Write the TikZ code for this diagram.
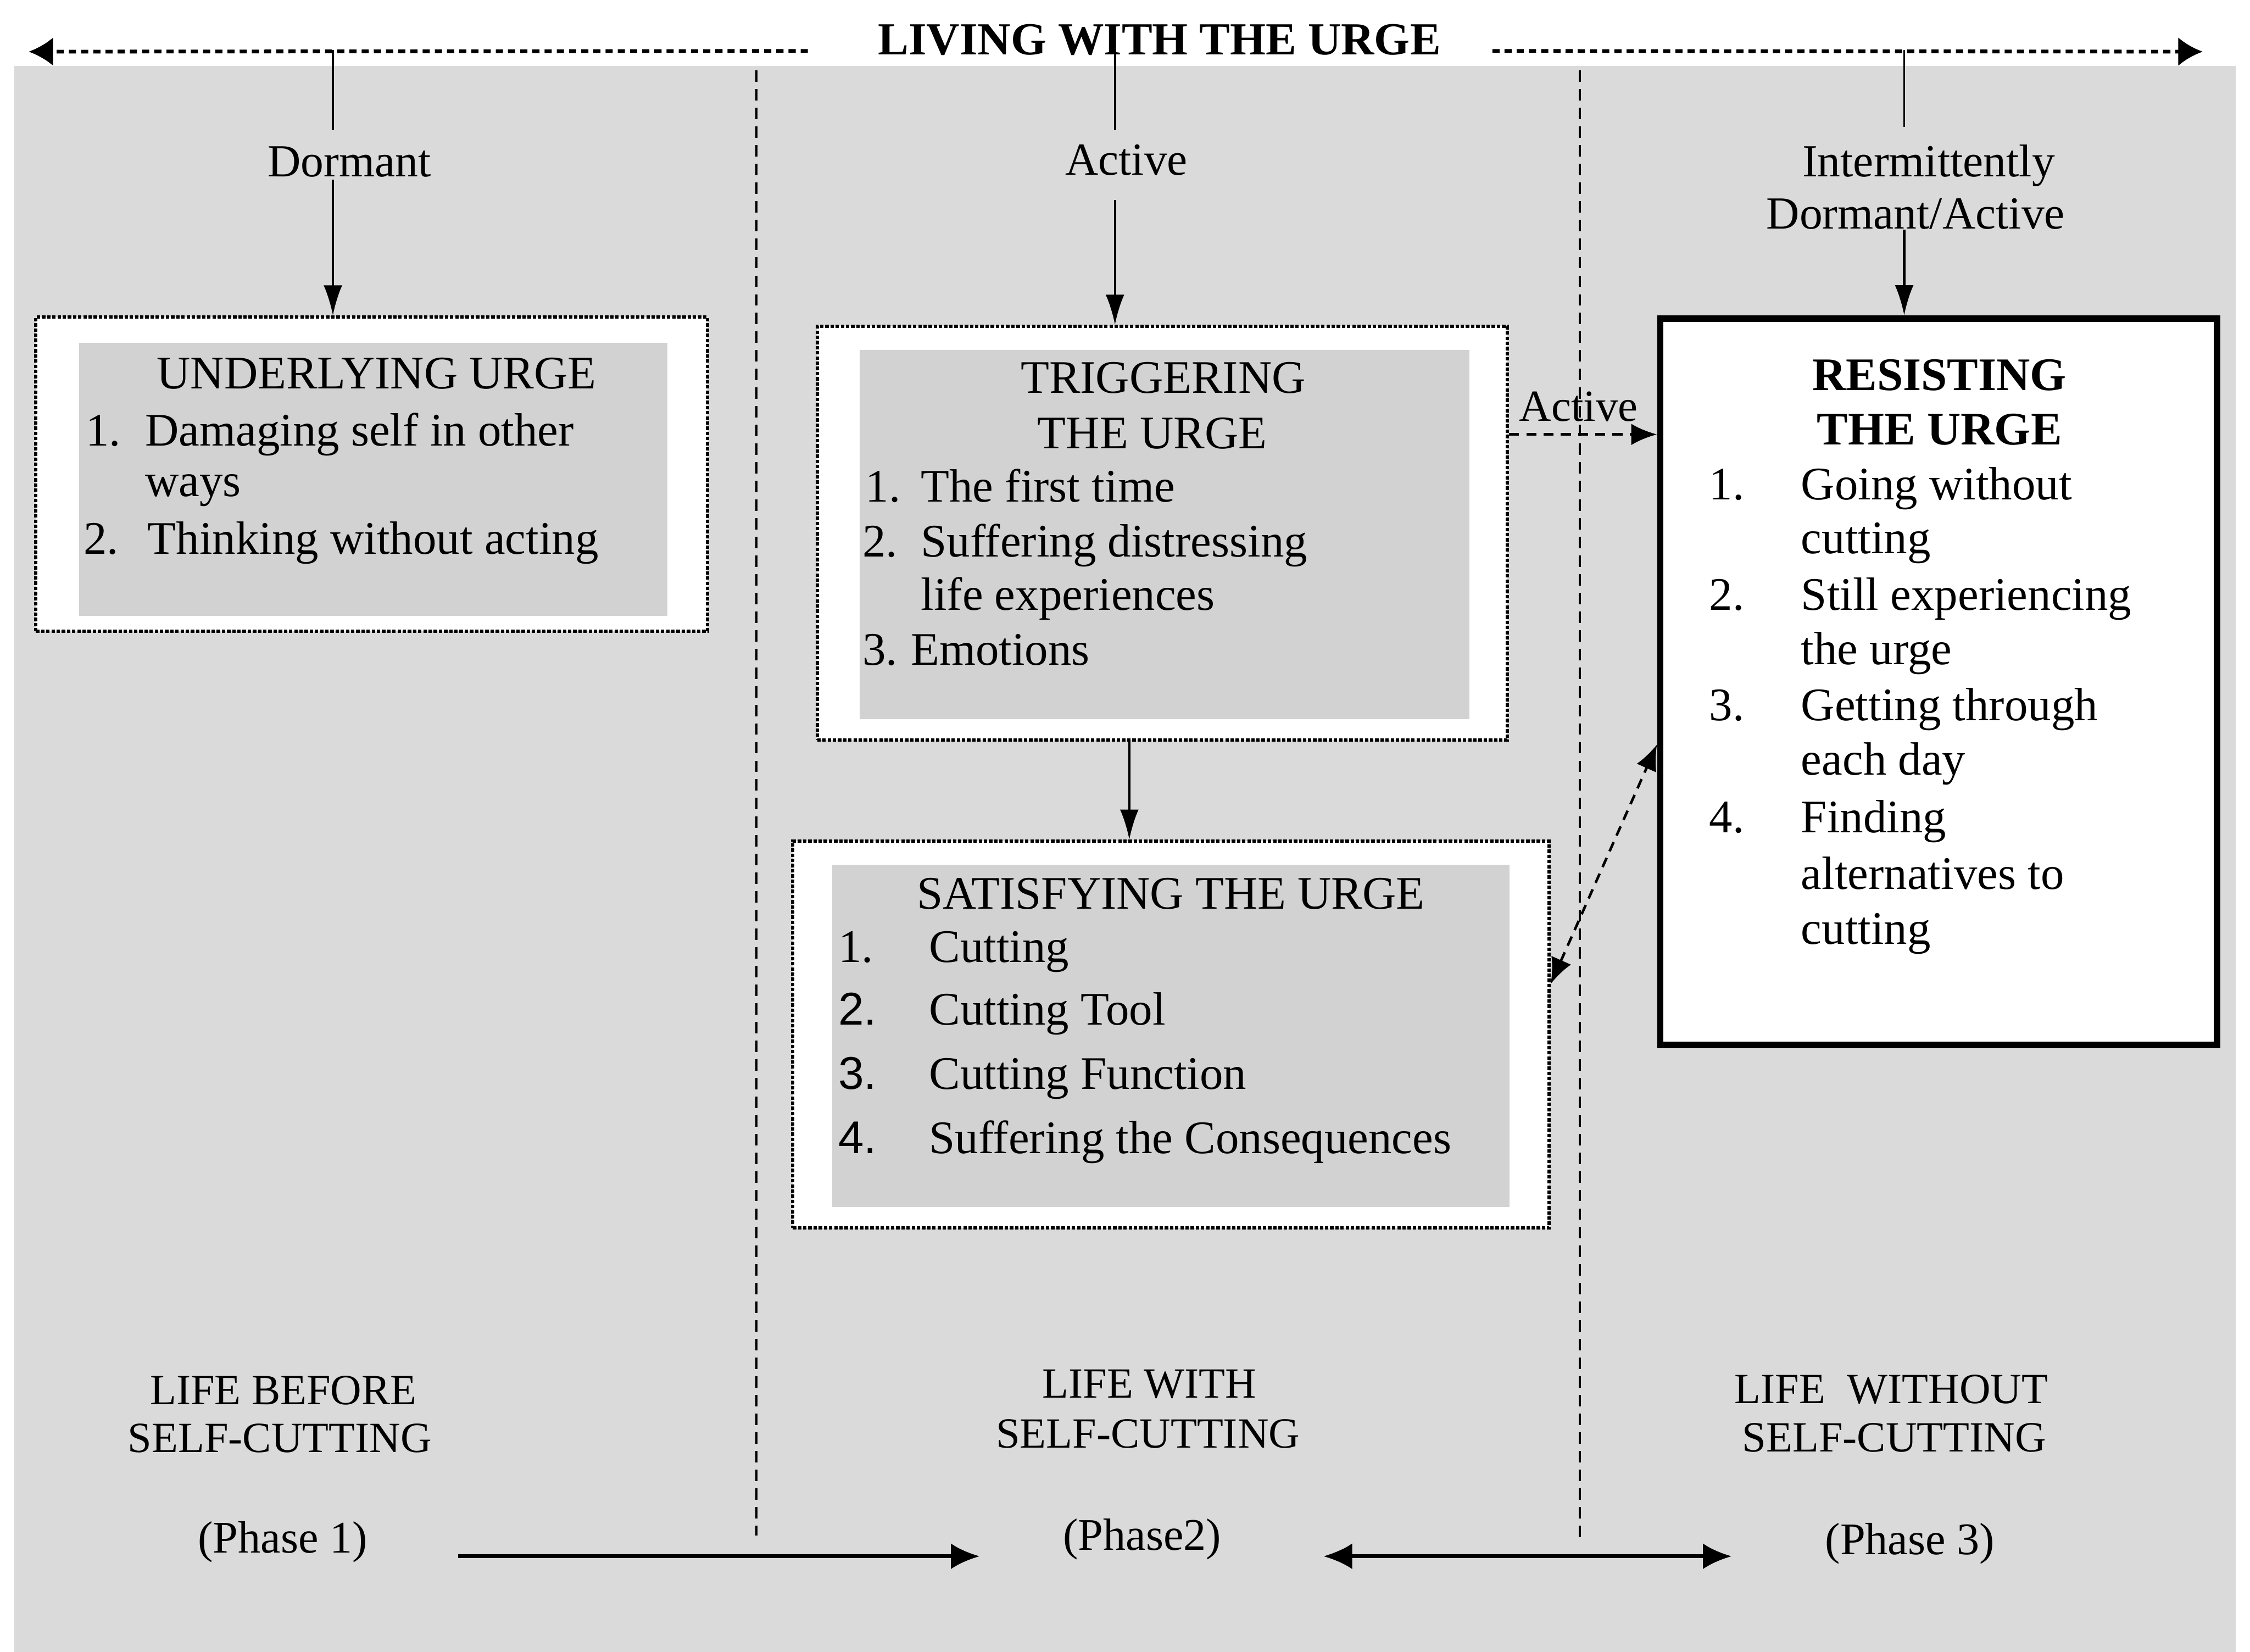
\documentclass[tikz,border=0pt]{standalone}
\usepackage{fontspec}
\setmainfont{Liberation Serif}
\newfontfamily\arialf{Liberation Sans}
\usetikzlibrary{arrows.meta}
\definecolor{bggray}{RGB}{218,218,218}
\definecolor{ingray}{RGB}{210,210,210}
\begin{document}
\begin{tikzpicture}[x=1pt,y=-1pt,
  body/.style={font=\fontsize{32.5}{38}\selectfont, inner sep=0pt, anchor=base west},
  head/.style={font=\fontsize{32.5}{38}\selectfont, inner sep=0pt, anchor=base},
  boldhead/.style={font=\bfseries\fontsize{32.5}{38}\selectfont, inner sep=0pt, anchor=base},
  lbl/.style={font=\fontsize{32}{38}\selectfont, inner sep=0pt, anchor=base},
  phase/.style={font=\fontsize{30}{36}\selectfont, inner sep=0pt, anchor=base},
  dotbox/.style={draw, dash pattern=on 2.4pt off 1.2pt, line width=2.3pt, fill=white, inner sep=0pt},
  thickbox/.style={draw, line width=4.5pt, fill=white, inner sep=0pt},
  arr/.style={line width=1.6pt, -{Latex[length=21pt,width=13pt]}},
  dasharr/.style={line width=1.8pt, dash pattern=on 7pt off 5pt, -{Latex[length=18pt,width=15pt]}},
  dashdbl/.style={line width=1.8pt, dash pattern=on 7pt off 5pt, {Latex[length=18pt,width=15pt]}-{Latex[length=18pt,width=15pt]}},
  toparr/.style={line width=2.6pt, dash pattern=on 5pt off 3.5pt, -{Latex[length=17pt,width=20pt]}},
  divider/.style={line width=1.6pt, dash pattern=on 8pt off 5pt},
  phasearr/.style={line width=2.6pt, -{Latex[length=20pt,width=18pt]}},
  phasedbl/.style={line width=2.6pt, {Latex[length=20pt,width=18pt]}-{Latex[length=20pt,width=18pt]}}
]
\useasboundingbox (0,0) rectangle (1568,1151);
\fill[white] (0,0) rectangle (1568,1151);
\fill[bggray] (10,46) rectangle (1558,1151);

% dividers
\draw[divider] (527,49) -- (527,1070);
\draw[divider] (1101,49) -- (1101,1075);

% title and top dashed arrows
\node[font=\bfseries\fontsize{32}{38}\selectfont, inner sep=0pt, anchor=base] (title) at (808,38) {LIVING WITH THE URGE};
\coordinate (ls) at (563,35.5);
\coordinate (lt) at (20,36);
\coordinate (rs) at (1040,35.5);
\coordinate (rt) at (1535,36);
\draw[toparr] (ls) -- (lt);
\draw[toparr] (rs) -- (rt);

% boxes
\node[dotbox, minimum width=468pt, minimum height=219pt] (under) at (259,330.5) {};
\node[dotbox, minimum width=481pt, minimum height=288pt] (trig) at (810,371.5) {};
\node[dotbox, minimum width=527pt, minimum height=269.5pt] (satis) at (816,721) {};
\node[thickbox, minimum width=388pt, minimum height=506pt] (resist) at (1351,475) {};

\fill[ingray] (55,239) rectangle (465,429);
\fill[ingray] (599,244) rectangle (1024,501);
\fill[ingray] (580,602.5) rectangle (1052,841);

% top labels
\coordinate (d0) at (232,35);
\coordinate (a0) at (777,35);
\coordinate (i0) at (1327,35);
\node[lbl] (dorm) at (243.5,123) {Dormant};
\node[lbl] (act) at (785,122) {Active};
\node[lbl] (int1) at (1344,123) {Intermittently};
\node[lbl] (int2) at (1335,159.4) {Dormant/Active};

\draw[line width=1.5pt, shorten >=11pt] (d0) -- (d0 |- dorm.north);
\draw[line width=1.5pt, shorten >=10pt] (a0) -- (a0 |- act.north);
\draw[line width=1.5pt, shorten >=12pt] (i0) -- (i0 |- int1.north);
\draw[arr, shorten <=1.5pt] (d0 |- dorm.south) -- (d0 |- under.north);
\draw[arr, shorten <=17pt] (a0 |- act.south) -- (a0 |- trig.north);
\draw[arr] (i0 |- int2.south) -- (i0 |- resist.north);

% UNDERLYING URGE
\node[head] (uh) at (262.5,270.7) {UNDERLYING URGE};
\node[body] (un1) at (59.6,310.5) {1.};
\node[body] (ut1) at (101,310.5) {Damaging self in other};
\node[body] (ut1b) at (101,346) {ways};
\node[body] (un2) at (58,386) {2.};
\node[body] (ut2) at (102.7,386) {Thinking without acting};

% TRIGGERING
\node[head] (th1) at (810.6,274) {TRIGGERING};
\node[head] (th2) at (803,312.4) {THE URGE};
\node[body] (tn1) at (603,349.6) {1.};
\node[body] (tt1) at (641.6,349.6) {The first time};
\node[body] (tn2) at (601,388) {2.};
\node[body] (tt2) at (641.6,388) {Suffering distressing};
\node[body] (tt2b) at (641.6,425.2) {life experiences};
\node[body] (tn3) at (601,463.5) {3.};
\node[body] (tt3) at (634.6,463.5) {Emotions};

% SATISFYING
\node[head] (sh) at (816,633.4) {SATISFYING THE URGE};
\node[body] (sn1) at (584,670.6) {1.};
\node[body] (st1) at (647.3,670.6) {Cutting};
\node[body, font=\arialf\fontsize{32}{38}\selectfont] (sn2) at (584,714.1) {2.};
\node[body] (st2) at (647.3,714.1) {Cutting Tool};
\node[body, font=\arialf\fontsize{32}{38}\selectfont] (sn3) at (584,758.9) {3.};
\node[body] (st3) at (647.3,758.9) {Cutting Function};
\node[body, font=\arialf\fontsize{32}{38}\selectfont] (sn4) at (584,803.6) {4.};
\node[body] (st4) at (647.3,803.6) {Suffering the Consequences};

% RESISTING
\node[boldhead] (rh1) at (1351.5,272) {RESISTING};
\node[boldhead] (rh2) at (1351.6,310) {THE URGE};
\node[body] (rn1) at (1191,348) {1.};
\node[body] (rt1) at (1255,348) {Going without};
\node[body] (rt1b) at (1255,385.5) {cutting};
\node[body] (rn2) at (1191,425) {2.};
\node[body] (rt2) at (1255,425) {Still experiencing};
\node[body] (rt2b) at (1255,463) {the urge};
\node[body] (rn3) at (1191,502) {3.};
\node[body] (rt3) at (1255,502) {Getting through};
\node[body] (rt3b) at (1255,540) {each day};
\node[body] (rn4) at (1191,580) {4.};
\node[body] (rt4) at (1255,580) {Finding};
\node[body] (rt4b) at (1255,619.7) {alternatives to};
\node[body] (rt4c) at (1255,657.8) {cutting};

% connectors between boxes
\coordinate (tx) at (787,0);
\draw[arr] (tx |- trig.south) -- (tx |- satis.north);
\coordinate (ay) at (0,302.7);
\node[lbl, font=\fontsize{31}{36}\selectfont] (actlbl) at (1100,293.4) {Active};
\draw[dasharr] (trig.east |- ay) -- (resist.west |- ay);
\coordinate (dy1) at (0,685.6);
\coordinate (dy2) at (0,518.7);
\draw[dashdbl] (satis.east |- dy1) -- (resist.west |- dy2);

% bottom phase labels
\node[phase] (lb1) at (197.5,978.5) {LIFE BEFORE};
\node[phase] (lb2) at (195,1012) {SELF-CUTTING};
\node[phase, font=\fontsize{31.5}{36}\selectfont] (ph1) at (197,1082) {(Phase 1)};
\node[phase] (lw1) at (801,974) {LIFE WITH};
\node[phase] (lw2) at (800,1009) {SELF-CUTTING};
\node[phase, font=\fontsize{31.5}{36}\selectfont] (ph2) at (796,1080) {(Phase2)};
\node[phase] (lo1) at (1318,977.7) {LIFE\ \ WITHOUT};
\node[phase] (lo2) at (1320,1011.7) {SELF-CUTTING};
\node[phase, font=\fontsize{31.5}{36}\selectfont] (ph3) at (1331,1083) {(Phase 3)};

\coordinate (py) at (0,1084.4);
\draw[phasearr, shorten <=63pt, shorten >=58pt] (ph1.east |- py) -- (ph2.west |- py);
\draw[phasedbl, shorten <=71pt, shorten >=65pt] (ph2.east |- py) -- (ph3.west |- py);
\end{tikzpicture}
\end{document}
